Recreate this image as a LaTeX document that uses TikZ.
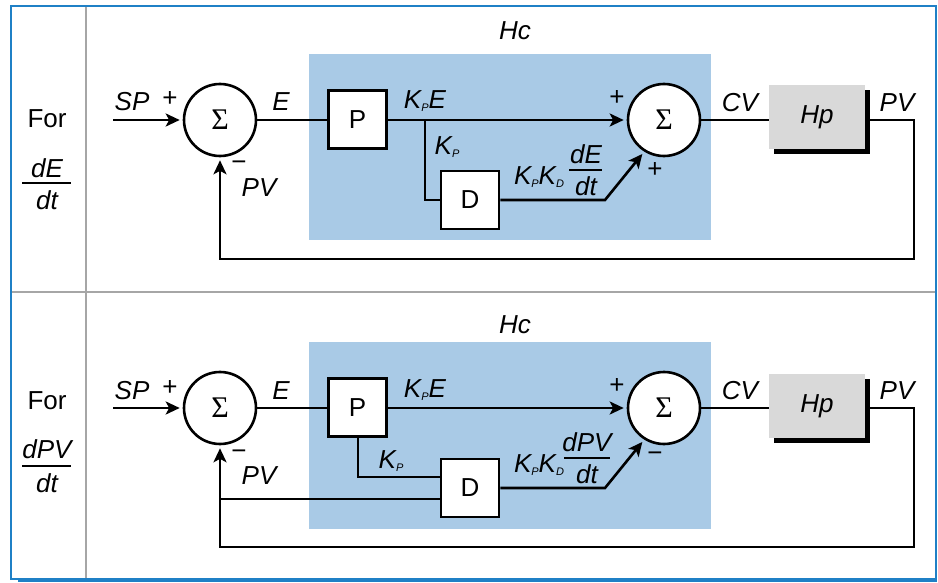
\documentclass[tikz,border=0pt]{standalone}
\usepackage{fontspec}
\setmainfont{Liberation Sans}
\newfontfamily\serifsig{Liberation Serif}
\usetikzlibrary{arrows.meta,shadows,calc}
\definecolor{hcblue}{HTML}{A9CAE6}
\definecolor{hpgrey}{HTML}{D9D9D9}
\definecolor{frameblue}{HTML}{1F80C6}
\definecolor{divgrey}{HTML}{A6A6A6}
\newcommand\bigf{\fontsize{26}{31}\selectfont}
\newcommand\sbs[1]{\raisebox{-3pt}{\fontsize{11}{11}\selectfont\itshape #1}}
\tikzset{
  ln/.style={line width=2.6pt},
  arr/.style={ln,-{Stealth[length=14pt,width=13pt,inset=3.5pt]},shorten >=3pt},
  sumnode/.style={circle,draw,line width=2.6pt,minimum size=72pt,inner sep=0pt,fill=white,font=\fontsize{30}{34}\serifsig},
  blk/.style={draw,line width=2.6pt,fill=white,minimum size=58pt,inner sep=0pt,font=\bigf},
  hpbox/.style={fill=hpgrey,minimum width=96pt,minimum height=64pt,inner sep=0pt,font=\bigf\itshape,
     drop shadow={shadow xshift=5pt,shadow yshift=-5pt,fill=black,opacity=1}},
  hcarea/.style={fill=hcblue,minimum width=402pt,inner sep=0pt},
  lbl/.style={font=\bigf\itshape,inner sep=0pt},
  sgn/.style={font=\bigf,inner sep=0pt},
  bar/.style={line width=2.2pt},
}
\begin{document}
\begin{tikzpicture}[x=1pt,y=-1pt]
\useasboundingbox (0,0) rectangle (938,583);
% frame
\draw[frameblue,line width=2.5pt] (11,6) rectangle (936,579);
\draw[frameblue,line width=2.5pt] (18,581) -- (937,581);
\draw[divgrey,line width=2.2pt] (86,7) -- (86,578);
\draw[divgrey,line width=2.2pt] (12,292) -- (935,292);

% ================= top panel =================
\node[sgn] (for1) at (47,119) {For};
\node[lbl] (num1) at (47,168) {dE};
\node[lbl] (den1) at (47,200) {dt};
\draw[bar] (22,183) -- (71,183);

\node[hcarea,minimum height=186pt] (hc1) at (510,147) {};
\node[lbl] (hct1) at (515,31) {Hc};

\node[sumnode] (s1) at (220,120) {Σ};
\node[blk] (p1) at (357.5,119.5) {P};
\node[blk] (d1) at (470,200) {D};
\node[sumnode] (s2) at (664,120) {Σ};
\node[hpbox] (hp1) at (817,117) {Hp};

\coordinate (sp1) at (113,120);
\coordinate (b1) at (425,120);
\coordinate (k1) at (605,200);
\coordinate (fb1) at (914,259);

\draw[arr] (sp1) -- (s1.west);
\draw[ln] (s1.east) -- (s1.east -| p1.west);
\draw[arr] (s1.east -| p1.east) -- (s2.west);
\draw[ln] (b1) |- (d1.west);
\draw[arr] (d1.east) -- (k1) -- (s2.238);
\draw[ln] (s2.east) -- (s2.east -| hp1.west);
\draw[arr] (s2.east -| hp1.east) -| (fb1) -| (s1.south);

\node[lbl] (spl1) at (132,102) {SP};
\node[sgn] (pl1) at (170,99) {+};
\node[sgn] (mi1) at (239,166) {−};
\node[lbl] (pvl1) at (259,188) {PV};
\node[lbl] (el1) at (281,102) {E};
\node[lbl] (kpe1) at (425,101) {K\sbs{P}E};
\node[lbl] (kp1) at (447,147) {K\sbs{P}};
\node[sgn] (pl2) at (617,98) {+};
\node[sgn] (pl3) at (655,170) {+};
\node[lbl] (kpkd1) at (539,177) {K\sbs{P}K\sbs{D}};
\node[lbl] (fn1) at (586,154) {dE};
\node[lbl] (fd1) at (586,186) {dt};
\draw[bar] (569,170) -- (602,170);
\node[lbl] (cv1) at (740,103) {CV};
\node[lbl] (pvr1) at (897,103) {PV};

% ================= bottom panel =================
\node[sgn] (for2) at (47,401) {For};
\node[lbl] (num2) at (47,449) {dPV};
\node[lbl] (den2) at (47,483) {dt};
\draw[bar] (22,466) -- (71,466);

\node[hcarea,minimum height=187pt] (hc2) at (510,435.5) {};
\node[lbl] (hct2) at (515,325) {Hc};

\node[sumnode] (s3) at (220,408) {Σ};
\node[blk] (p2) at (357.5,407.5) {P};
\node[blk] (d2) at (470,488) {D};
\node[sumnode] (s4) at (664,408) {Σ};
\node[hpbox] (hp2) at (817,406) {Hp};

\coordinate (sp2) at (113,408);
\coordinate (pk2) at (358,477);
\coordinate (pv2) at (220,499);
\coordinate (k2) at (605,488);
\coordinate (fb2) at (914,547);

\draw[arr] (sp2) -- (s3.west);
\draw[ln] (s3.east) -- (s3.east -| p2.west);
\draw[arr] (s3.east -| p2.east) -- (s4.west);
\draw[ln] (p2.south -| pk2) -- (pk2) -- (pk2 -| d2.west);
\draw[ln] (pv2) -- (pv2 -| d2.west);
\draw[arr] (d2.east) -- (k2) -- (s4.238);
\draw[ln] (s4.east) -- (s4.east -| hp2.west);
\draw[arr] (s4.east -| hp2.east) -| (fb2) -| (s3.south);

\node[lbl] (spl2) at (132,391) {SP};
\node[sgn] (pl4) at (170,388) {+};
\node[sgn] (mi2) at (239,455) {−};
\node[lbl] (pvl2) at (259,476) {PV};
\node[lbl] (el2) at (281,391) {E};
\node[lbl] (kpe2) at (425,390) {K\sbs{P}E};
\node[lbl] (kp2) at (391,461) {K\sbs{P}};
\node[sgn] (pl5) at (617,386) {+};
\node[sgn] (mi3) at (655,457) {−};
\node[lbl] (kpkd2) at (539,465) {K\sbs{P}K\sbs{D}};
\node[lbl] (fn2) at (587,442) {dPV};
\node[lbl] (fd2) at (587,474) {dt};
\draw[bar] (564,458) -- (610,458);
\node[lbl] (cv2) at (740,391) {CV};
\node[lbl] (pvr2) at (897,391) {PV};
\end{tikzpicture}
\end{document}
